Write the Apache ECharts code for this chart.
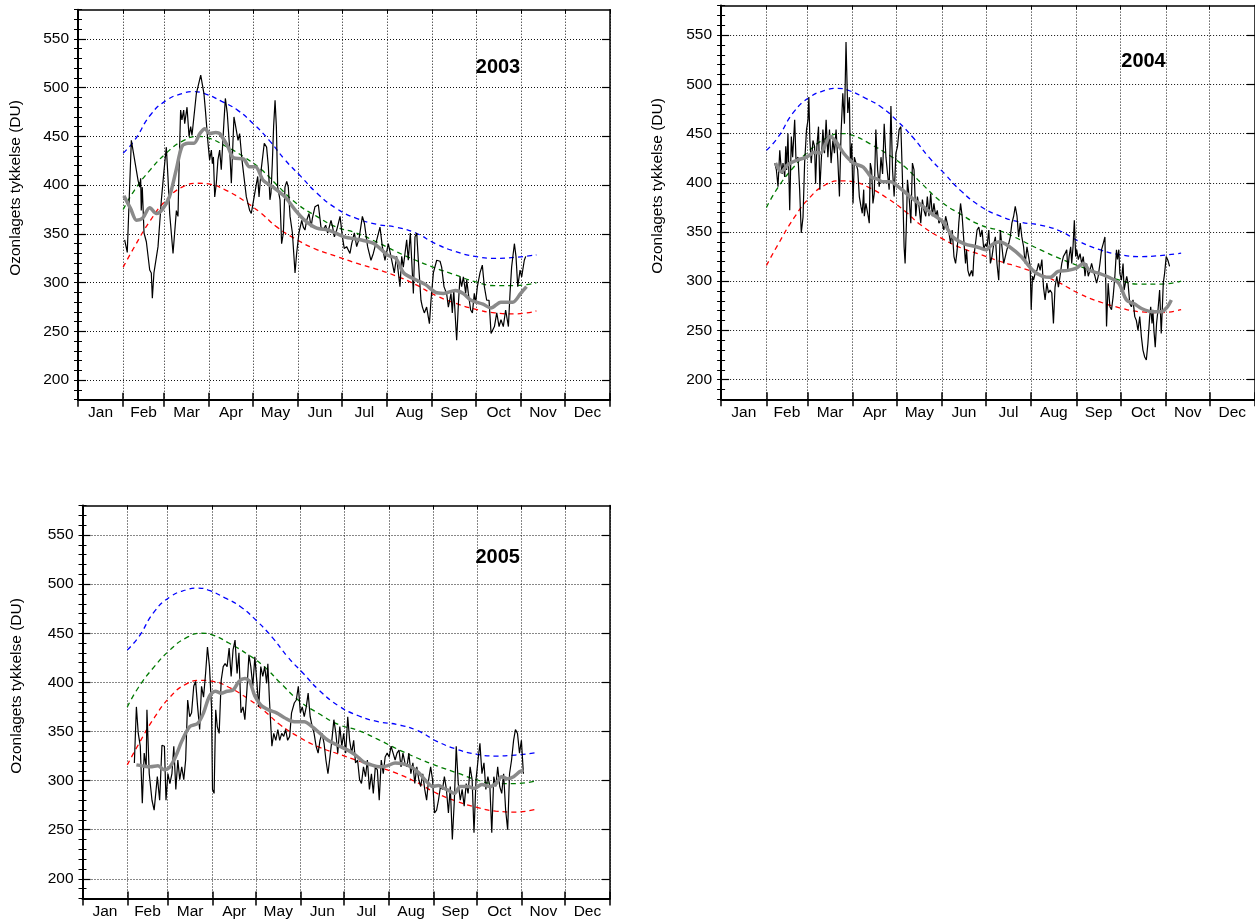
<!DOCTYPE html>
<html>
<head>
<meta charset="utf-8">
<script src="https://cdn.jsdelivr.net/npm/echarts@6/dist/echarts.min.js"></script>
<style>html,body{margin:0;padding:0;background:#fff}#c{width:1255px;height:920px}</style>
</head>
<body>
<div id="c"></div>
<script>
// ---- axis definitions ----
const MONTHS = ['Jan','Feb','Mar','Apr','May','Jun','Jul','Aug','Sep','Oct','Nov','Dec'];
const MONTH_START = [0,31,59,90,120,151,181,212,243,273,304,334,365];
const MONTH_MID = [15.5,45,74.5,105,135.5,166,196.5,227.5,258,288.5,319,349.5];
const Y_MAJOR = [200,250,300,350,400,450,500,550];
const Y_NAME = 'Ozonlagets tykkelse (DU)';
const YEARS = ['2003','2004','2005'];

// ---- climatology (same in every panel) ----
const maxDays = [31,38.8,49.7,60.6,71.4,79.6,87.7,98.6,109.4,120.3,131.2,142,152.9,163.8,177.4,191,204.5,218.1,231.7,245.3,258.9,272.4,286,299.6,314.5];
const maxVals = [433,446,472,487,494,496,493.5,486,477,463,446,426,409,392,376,366,360,357,351,340,332,327,325,326,328.5];
const meanDays = [31,38.8,49.7,60.6,71.4,82.3,90.4,101.3,114.9,125.8,136.6,150.2,163.8,177.4,191,204.5,218.1,231.7,245.3,258.9,272.4,286,299.6,314.5];
const meanVals = [375,395,416,433,445,450,448,440,428,416,400,381,368,357,351,342,332,323,315,308,301,297,297,300];
const minDays = [31,38.8,49.7,60.6,71.4,82.3,90.4,101.3,114.9,125.8,136.6,150.2,163.8,177.4,191,204.5,218.1,231.7,245.3,258.9,272.4,286,299.6,314.5];
const minVals = [316,337,364,385,398,402,401,395,383,371,357,344,334,327,320,314,307,298,287,279,273,269,268,271];

// ---- 2003 daily ----
const d03Days = [32,33.8,36.6,37.7,41.2,42.3,43,43.4,44.1,45.3,46.9,49.2,50.3,51,52.1,54.9,57.2,59,60.6,61.7,62.9,65.2,65.9,67.5,68.6,69.3,70.4,71.3,72.5,73.2,74.8,76.2,77.3,78.2,81.2,84.2,85.1,86.4,87.4,89.2,90.3,91.5,92.2,92.9,93.8,94.9,96,97.2,98.3,100.2,101.1,102.4,104,105.2,107,108.2,109.8,110.9,112.5,115.5,117.8,118.9,121.2,123.3,124.2,125.6,127.8,129.4,130.6,131.7,132.4,133.3,134.2,135.2,136.1,137,138.6,139.7,140.9,142,143.2,144.3,145.5,147.1,148.9,150,150.7,151.6,153.5,154.6,155.7,156.9,158.5,159.9,160.8,162.6,164.9,166.7,168.3,169.9,171.3,173.6,174.7,175.9,177.5,179.8,181.4,182.7,184.3,186.6,187.8,189.6,191.2,192.8,195.1,196.5,198.7,201,202.6,203.8,207.2,208.8,210.6,212.9,214.7,217,218.6,219.8,220.9,222.1,223.2,225.5,226.6,228,230.1,231.2,232.4,233.5,235.3,236.3,237.6,239.2,241.1,242.2,243.8,246.1,248.4,249.5,251.1,252.9,254.1,255.9,256.8,257.8,259.8,261,262.1,263.2,264.4,266,266.7,267.8,269.4,270.6,271.9,272.8,274,275.8,277.4,278.8,280.4,282,283.4,284.5,285.7,287.3,288.9,290.2,291.8,293.4,295.3,296.4,297.5,299.4,300.5,301.7,303.3,304.4,306.2,307.2];
const d03Vals = [344,331,446,444,405,398,407,374,398,351,342,313,310,284,310,337,385,415,439,409,371,330,328,374,368,415,477,467,477,463,480,450,460,451,494,513,511,494,477,443,426,436,422,429,388,402,426,436,416,467,489,474,439,402,470,460,446,453,426,388,374,371,391,409,388,415,443,439,419,385,392,422,460,487,460,398,385,340,351,398,404,398,368,351,310,330,332,351,364,357,354,364,371,357,366,378,380,357,354,359,351,364,357,347,354,368,347,335,337,330,340,351,337,345,368,361,337,323,330,337,357,337,323,340,327,310,327,310,296,327,316,344,323,351,289,347,351,323,282,275,269,275,258,282,310,323,322,316,296,289,275,289,269,292,241,279,306,296,306,289,303,289,272,269,289,279,296,310,318,296,282,282,248,246,255,269,255,262,255,272,255,289,316,340,327,296,313,306,323,327];
const s03Days = [31.5,36.1,40.2,44.3,49.2,53.8,57.8,62.7,67.4,71.4,75.5,79.6,83.6,87.1,90.4,94.5,97.2,102.7,106.8,113.5,117.6,121.7,127.1,133.9,142,148.8,155.6,163.8,171.9,182.8,193.7,203.2,212.7,218.1,223.5,231.7,238.5,245.3,250.7,258.9,264.3,269.7,277.9,283.3,290.1,298.3,303.7,307.7];
const s03Vals = [389,376,364,366,377,371,375,388,416,440,443,443,453,458,453,454,453,440,428,427,419,419,405,398,388,375,364,356,354,347,344,340,328,325,310,303,298,290,289,292,289,282,278,274,280,280,289,296];

// ---- 2004 daily ----
const d04Days = [36.7,37.8,38.9,40.1,40.8,41.7,42.3,43.5,44.2,44.8,45.7,46.9,48,48.9,50.3,51.2,52.6,53.7,54.8,56,57.1,58.4,59.4,60,60.7,61.6,62.8,63.9,64.6,65.5,66.6,67.5,68.4,69.6,70.7,71.8,73,74.1,75.2,76.4,77.5,78.6,79.8,80.9,82,83.2,84.3,85.4,86.6,87.7,88.4,89.3,90.2,91.1,92.2,93.4,94.5,95.6,96.5,97.5,97.9,99,100.2,101.3,102,102.9,103.8,104.7,105.8,107,108.1,109.3,110.4,111.5,112.7,113.8,114.9,116.1,117.2,118.3,119.5,120.6,121.7,122.9,124,125.1,125.8,126.7,127.4,128.5,129.7,130.8,131.9,133.1,134.2,135.3,136.5,137.6,138.7,139.9,141,142.1,143.3,144.4,145.5,146.7,147.8,148.9,150.1,151.2,152.3,153.5,154.6,155.8,156.9,158,159.2,160.3,161.4,162.5,163.7,164.8,165.9,167.1,167.8,168.7,169.8,171.2,172.1,172.8,173.9,175,176.2,177.3,178.4,179.6,180.7,181.8,183,184.1,185.2,186.4,187.5,188.6,189.8,190.9,192,193.2,194.3,195.4,196.6,197.7,198.8,200,201.1,202.3,203.4,204.5,205.6,206.8,207.9,209.1,210.2,211.3,212,212.9,213.6,214.7,215.9,217,218.1,219.3,220.4,221.5,222.7,223.8,224.9,226.1,227.2,228.3,229.5,230.6,231.7,232.9,234,235.1,236.3,237,237.9,239,239.7,240.6,241.5,242.4,243.1,244.2,245.4,246.5,247.6,248.8,249.9,251,252.2,253.3,254.4,255.6,256.7,257.8,259,260.1,261.2,262.4,263.5,264.6,265.8,266.9,268,269.2,270.3,271,271.9,272.6,273.7,274.8,275.5,276.4,277.3,278.2,279.4,280.5,281.6,282.8,283.9,285,286.2,287.3,288.4,289.6,290.7,291.8,293,293.7,294.6,295.2,295.9,296.8,297.7,298.7,299.8,300.9,301.6,302.3,303.2,304.3,305.5,306.6];
const d04Vals = [420,413,396,433,420,409,420,406,437,413,450,372,447,426,464,423,426,393,349,365,420,454,464,487,443,420,443,437,399,437,457,393,420,454,430,464,426,454,420,443,430,454,423,386,450,491,460,543,471,487,420,440,379,426,420,413,386,376,369,393,366,379,369,359,420,413,379,389,454,413,396,426,409,460,426,409,393,478,413,386,430,437,454,457,403,335,318,359,403,386,359,420,413,366,386,376,359,383,372,366,386,366,389,366,379,366,372,359,362,359,352,366,359,349,338,352,325,318,332,359,379,366,342,318,332,311,305,311,305,325,338,352,355,345,352,332,338,335,352,318,325,338,345,318,301,352,335,318,325,332,338,345,359,366,376,366,345,359,345,335,318,335,325,315,271,305,301,308,311,318,311,322,294,281,298,288,291,288,257,294,305,294,305,318,325,328,332,311,325,335,318,335,362,325,332,322,328,318,325,305,318,305,311,318,311,305,298,305,318,332,338,345,254,298,274,271,284,305,332,322,332,308,301,318,291,298,305,298,277,274,281,264,260,250,264,244,230,223,220,237,264,274,257,271,250,233,257,271,291,247,271,298,308,325,321,315];
const s04Days = [37.2,41.2,45.2,51.9,58.5,63.8,67.8,74.5,78.5,83.8,90.5,97.2,102.5,106.5,110.5,115.8,121.1,129.2,137.1,143.8,151.8,158.5,166.4,174.5,181.1,185.1,190.5,197.1,205.1,213.1,219.8,225.1,230.4,237.1,242.4,247.8,251.8,258.4,265.1,271.8,277.1,282.4,287.8,294.4,301.1,305.1,307.8];
const s04Vals = [420,411,418,423,426,431,430,447,442,430,420,416,406,404,401,401,396,386,377,369,360,345,338,335,332,337,340,335,325,311,305,304,310,311,313,318,311,308,304,298,281,277,272,269,269,274,281];

// ---- 2005 daily ----
const d05Days = [35.9,37.3,38.6,40,41.4,42.7,44.1,44.6,46.2,48.1,49.6,51.8,53.4,55,56.7,57.8,59.1,60.5,61.9,63.2,64.6,66,67.3,68.7,70.1,71.4,72.8,74.2,75.5,77,78.3,79.7,81.1,82.4,83.8,85.2,86.5,87.9,89.3,90,91.1,92.2,93.3,94.6,96,97.4,98.7,100.1,101.5,102.9,104.2,105.6,107,108.3,109.7,111.1,112.4,113.8,115.2,116.5,117.9,119.3,120.6,122,123.4,124.8,126.1,127.5,128.3,129.4,131.1,132.4,133.8,135.2,136.5,137.9,139.3,140.6,142,143.4,144.7,146.6,148,149.4,150.8,152.1,153.5,154.9,156.2,157.6,159,160.3,161.7,163.1,164.4,165.8,167.2,168.5,169.9,171.3,172.6,174,175.4,176.7,178.1,179.5,180.8,182.2,183.6,184.9,186.3,187.7,189,190.4,191.8,193.1,194.5,195.9,197.2,198.6,200,201.3,202.7,204.1,205.4,206.8,208.2,209.5,210.9,212.3,213.6,215,216.4,217.7,219.1,220.5,221.8,223.2,224.6,225.9,227.3,228.7,230,231.4,232.8,234.1,235.5,236.9,238.2,239.6,241,242.3,243.7,245.1,246.4,247.8,249.2,250.5,251.9,253.3,254.6,256,257.4,258.7,260.1,261.5,262.8,264.2,265.6,266.9,268.3,269.7,271,272.4,273.8,275.1,276.5,277.9,279.2,280.6,282,283.3,284.7,286.1,287.4,288.8,290.2,291.5,292.9,294.3,295.6,297,298.4,299.7,301.1,302.5,303.8,305.2];
const d05Vals = [318,375,348,335,277,328,314,372,307,280,270,304,280,336,335,280,307,297,307,335,291,321,301,314,301,321,382,365,369,396,401,375,352,396,385,409,436,416,375,291,287,372,355,348,402,416,419,416,435,406,433,443,409,430,369,375,362,392,428,416,396,426,402,375,416,406,416,399,419,382,335,348,341,352,341,348,345,352,341,345,369,379,382,396,369,375,365,375,389,365,355,348,335,328,341,348,338,321,307,324,341,362,348,328,355,335,348,328,365,341,328,341,318,321,301,297,314,304,321,291,307,287,314,311,280,321,307,324,328,324,335,328,321,328,331,314,328,318,314,328,307,318,297,314,301,294,307,291,280,301,314,301,267,270,280,294,291,304,291,267,294,240,280,335,297,280,291,274,297,287,314,301,247,301,321,338,307,318,291,304,294,247,304,294,314,294,287,307,270,250,307,321,341,352,348,328,341,307];
const s05Days = [37.3,41.4,46.9,52.3,56.4,60.5,64.6,68.7,74.2,79.7,83.8,87.9,92,96,100.1,104.2,108.3,112.4,115.7,119.3,123.4,128.8,134.3,139.8,146.6,153.5,158.9,164.4,169.9,176.7,183.6,189,194.5,200,205.4,210.9,216.4,221.8,227.3,232.8,238.2,242.3,246.4,250.5,254.6,257.4,261.5,266.9,271,276.5,282,286.1,290.2,294.3,298.4,302.5,305.2];
const s05Vals = [316,315,314,315,311,314,325,340,355,358,369,386,391,389,391,392,401,404,401,386,377,372,369,364,360,360,355,348,341,336,331,326,319,316,314,315,318,317,314,308,299,294,295,292,289,287,294,294,292,296,294,297,304,302,304,309,311];

const DAILY = [[d03Days,d03Vals],[d04Days,d04Vals],[d05Days,d05Vals]];
const SMOOTH = [[s03Days,s03Vals],[s04Days,s04Vals],[s05Days,s05Vals]];

// ---- layout (pixels) ----
const GRIDS = [
  {left:78, top:9.7, width:532, height:390},
  {left:721.1, top:5.6, width:536.4, height:393.7},
  {left:82.5, top:505.5, width:527.3, height:393}
];
const TITLE_POS = [[498,67],[1143.5,61],[497.7,557]];
const YNAME_POS = [[16,188],[658,186],[17,686]];

const FONT = '"Liberation Sans", Arial, sans-serif';
const pairs = (a,b) => a.map((d,i)=>[d,b[i]]);
const dotted = {show:true, lineStyle:{color:'#111', width:1, type:[1,2]}};

const xAxis = [], yAxis = [], series = [], graphic = [];
GRIDS.forEach((g,i)=>{
  const xb = xAxis.length, yb = yAxis.length;
  // main bottom x
  xAxis.push({gridIndex:i, type:'value', min:0, max:365, position:'bottom',
    axisLine:{show:true, onZero:false, lineStyle:{color:'#000', width:2}},
    axisTick:{show:true, customValues:MONTH_START, inside:false, length:7, lineStyle:{color:'#000', width:1.5}},
    axisLabel:{show:true, customValues:MONTH_MID, margin:5, color:'#000', fontSize:15.5, fontFamily:FONT,
      formatter:(v)=>{const k=MONTH_MID.findIndex(m=>Math.abs(m-v)<0.01);return k>=0?MONTHS[k]:'';}},
    splitLine:dotted});
  // inside ticks bottom
  xAxis.push({gridIndex:i, type:'value', min:0, max:365, position:'bottom',
    axisLine:{show:false}, axisLabel:{show:false}, splitLine:{show:false},
    axisTick:{show:true, customValues:MONTH_START, inside:true, length:7, lineStyle:{color:'#000', width:1.5}}});
  // top frame
  xAxis.push({gridIndex:i, type:'value', min:0, max:365, position:'top',
    axisLine:{show:true, onZero:false, lineStyle:{color:'#000', width:1.5}}, axisLabel:{show:false}, splitLine:{show:false},
    axisTick:{show:true, customValues:MONTH_START, inside:true, length:4, lineStyle:{color:'#000', width:1}}});
  // main left y
  yAxis.push({gridIndex:i, type:'value', min:180, max:580, position:'left',
    axisLine:{show:true, onZero:false, lineStyle:{color:'#000', width:2}},
    axisTick:{show:true, customValues:Y_MAJOR, inside:true, length:8, lineStyle:{color:'#000', width:1.2}},
    axisLabel:{show:true, customValues:Y_MAJOR, margin:9, color:'#000', fontSize:15.5, fontFamily:FONT},
    splitLine:dotted});
  // minor left
  yAxis.push({gridIndex:i, type:'value', min:180, max:580, interval:10, position:'left',
    axisLine:{show:false}, axisLabel:{show:false}, splitLine:{show:false},
    axisTick:{show:true, inside:true, length:4, lineStyle:{color:'#000', width:1}}});
  // right frame major
  yAxis.push({gridIndex:i, type:'value', min:180, max:580, position:'right',
    axisLine:{show:true, onZero:false, lineStyle:{color:'#000', width:1.5}}, axisLabel:{show:false}, splitLine:{show:false},
    axisTick:{show:true, customValues:Y_MAJOR, inside:true, length:8, lineStyle:{color:'#000', width:1.2}}});
  // right minor
  yAxis.push({gridIndex:i, type:'value', min:180, max:580, interval:10, position:'right',
    axisLine:{show:false}, axisLabel:{show:false}, splitLine:{show:false},
    axisTick:{show:true, inside:true, length:4, lineStyle:{color:'#000', width:1}}});

  const base = {type:'line', xAxisIndex:xb, yAxisIndex:yb, symbol:'none', silent:true};
  const dash = (days,vals,color)=>Object.assign({}, base, {data:pairs(days,vals), smooth:0.5, z:2,
    lineStyle:{color:color, width:1.3, type:[5,4]}});
  series.push(dash(maxDays,maxVals,'#0000ff'));
  series.push(dash(meanDays,meanVals,'#007a00'));
  series.push(dash(minDays,minVals,'#ff0000'));
  series.push(Object.assign({}, base, {data:pairs(DAILY[i][0],DAILY[i][1]), z:3,
    lineStyle:{color:'#000', width:1.2}}));
  series.push(Object.assign({}, base, {data:pairs(SMOOTH[i][0],SMOOTH[i][1]), smooth:0.3, z:4,
    lineStyle:{color:'#8a8a8a', width:3.5}}));

  graphic.push({type:'text', x:TITLE_POS[i][0], y:TITLE_POS[i][1], z:10,
    style:{text:YEARS[i], fill:'#000', font:'bold 20px ' + FONT, align:'center', verticalAlign:'middle'}});
  graphic.push({type:'text', x:YNAME_POS[i][0], y:YNAME_POS[i][1], rotation:Math.PI/2, z:10,
    style:{text:Y_NAME, fill:'#000', font:'15.5px ' + FONT, align:'center', verticalAlign:'middle'}});
});

const chart = echarts.init(document.getElementById('c'), null, {renderer:'canvas'});
chart.setOption({
  animation:false,
  backgroundColor:'#fff',
  grid: GRIDS.map(g=>Object.assign({containLabel:false, show:false}, g)),
  xAxis, yAxis, series, graphic
});
</script>
</body>
</html>
